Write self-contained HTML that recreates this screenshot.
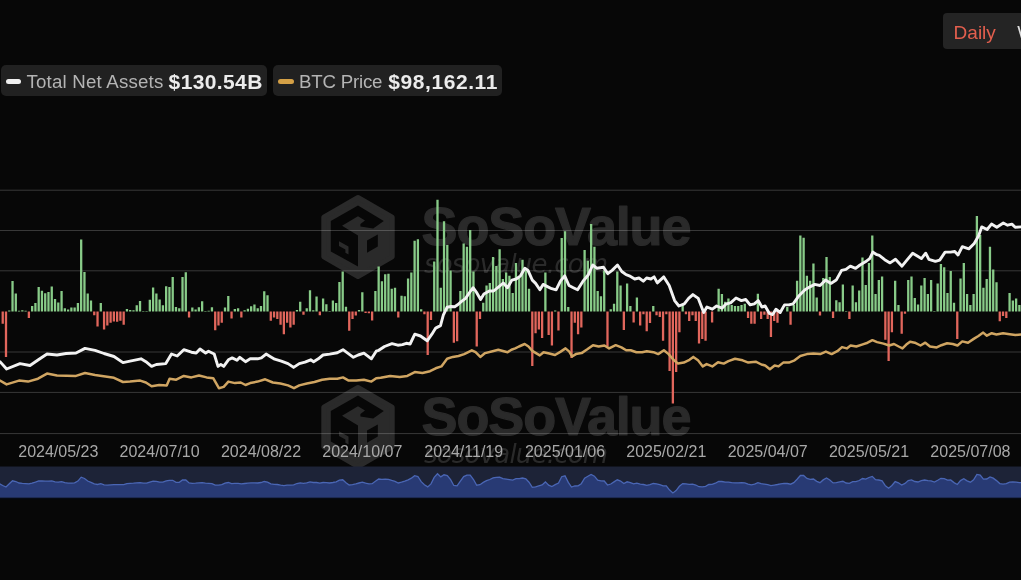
<!DOCTYPE html>
<html><head><meta charset="utf-8"><style>
html,body{margin:0;padding:0;background:#070707;}
body{width:1021px;height:580px;overflow:hidden;position:relative;font-family:"Liberation Sans",Arial,sans-serif;}
svg{position:absolute;left:0;top:0;}
#wrap{position:absolute;left:0;top:0;width:1021px;height:580px;filter:blur(0.4px);}
.pill{position:absolute;top:65px;height:31px;background:#212121;border-radius:5px;}
.dash{position:absolute;top:78.5px;width:15.8px;height:5px;border-radius:2.5px;}
.lbl{position:absolute;top:72.7px;line-height:1;white-space:nowrap;color:#b4b4b4;font-size:18.7px;letter-spacing:-0.2px;}
.val{position:absolute;top:70.5px;line-height:1;white-space:nowrap;color:#ececec;font-size:21px;font-weight:bold;letter-spacing:-0.3px;}
.btn{position:absolute;left:943.3px;top:13.3px;width:100px;height:35.8px;background:#242424;border-radius:4px;}
.btn span{position:absolute;top:8.6px;line-height:normal;font-size:19px;}
</style></head><body><div id="wrap">
<svg width="1021" height="580" viewBox="0 0 1021 580">
<path d="M358.0 197.5 L392.2 217.2 L392.2 256.8 L358.0 276.5 L323.8 256.8 L323.8 217.2Z" fill="#2a2a2a" stroke="#2a2a2a" stroke-width="5" stroke-linejoin="round"/><g transform="translate(358,237)" fill="#070707"><path d="M-27.2 -15.9 L0 -31.5 L25.8 -16 L15.2 -8.4 L2.4 -10.6 L2.4 -12.9 L7 -16.6 L0 -20.8 L-16 -11.2 L0 -1.6 L0 29.6 L-27.2 14.4 Z"/><path d="M-19 4.2 L-9.5 9.6 L-9.5 17.5 L-12.6 15.8 L-12.6 12.6 L-19 9 Z" fill="#2a2a2a"/><path d="M9 3.6 L19.8 -2.6 L19.8 9.6 L9 15.8 Z"/></g><text x="421.6" y="244.8" font-family="Liberation Sans, Arial, sans-serif" font-weight="bold" font-size="54" letter-spacing="-1.15" fill="#2a2a2a" stroke="#2a2a2a" stroke-width="1.2" stroke-linejoin="round">SoSoValue</text><text x="424" y="273" font-family="DejaVu Sans, sans-serif" font-weight="200" font-style="italic" font-size="26" letter-spacing="-0.8" fill="#2a2a2a">sosovalue.com</text><path d="M358.0 387.5 L392.2 407.2 L392.2 446.8 L358.0 466.5 L323.8 446.8 L323.8 407.2Z" fill="#2a2a2a" stroke="#2a2a2a" stroke-width="5" stroke-linejoin="round"/><g transform="translate(358,427)" fill="#070707"><path d="M-27.2 -15.9 L0 -31.5 L25.8 -16 L15.2 -8.4 L2.4 -10.6 L2.4 -12.9 L7 -16.6 L0 -20.8 L-16 -11.2 L0 -1.6 L0 29.6 L-27.2 14.4 Z"/><path d="M-19 4.2 L-9.5 9.6 L-9.5 17.5 L-12.6 15.8 L-12.6 12.6 L-19 9 Z" fill="#2a2a2a"/><path d="M9 3.6 L19.8 -2.6 L19.8 9.6 L9 15.8 Z"/></g><text x="421.6" y="434.8" font-family="Liberation Sans, Arial, sans-serif" font-weight="bold" font-size="54" letter-spacing="-1.15" fill="#2a2a2a" stroke="#2a2a2a" stroke-width="1.2" stroke-linejoin="round">SoSoValue</text><text x="424" y="463" font-family="DejaVu Sans, sans-serif" font-weight="200" font-style="italic" font-size="26" letter-spacing="-0.8" fill="#2a2a2a">sosovalue.com</text>
<g stroke="rgba(255,255,255,0.2)" stroke-width="1"><line x1="0" x2="1021" y1="190.2" y2="190.2"/><line x1="0" x2="1021" y1="230.5" y2="230.5"/><line x1="0" x2="1021" y1="270.8" y2="270.8"/><line x1="0" x2="1021" y1="352.0" y2="352.0"/><line x1="0" x2="1021" y1="392.4" y2="392.4"/><line x1="0" x2="1021" y1="433.6" y2="433.6"/></g>
<path d="M8.11 310.50h2.3V311.5h-2.3zM11.38 280.88h2.3V311.5h-2.3zM14.65 293.61h2.3V311.5h-2.3zM17.92 310.67h2.3V311.5h-2.3zM21.19 310.36h2.3V311.5h-2.3zM24.46 310.67h2.3V311.5h-2.3zM31.00 306.02h2.3V311.5h-2.3zM34.27 302.91h2.3V311.5h-2.3zM37.54 287.09h2.3V311.5h-2.3zM40.80 290.81h2.3V311.5h-2.3zM44.07 293.30h2.3V311.5h-2.3zM47.34 292.05h2.3V311.5h-2.3zM50.61 286.62h2.3V311.5h-2.3zM53.88 299.04h2.3V311.5h-2.3zM57.15 302.60h2.3V311.5h-2.3zM60.42 290.97h2.3V311.5h-2.3zM63.69 308.34h2.3V311.5h-2.3zM66.96 309.43h2.3V311.5h-2.3zM70.23 307.57h2.3V311.5h-2.3zM73.49 307.57h2.3V311.5h-2.3zM76.76 302.91h2.3V311.5h-2.3zM80.03 239.62h2.3V311.5h-2.3zM83.30 271.89h2.3V311.5h-2.3zM86.57 293.61h2.3V311.5h-2.3zM89.84 300.59h2.3V311.5h-2.3zM99.65 302.91h2.3V311.5h-2.3zM125.80 309.12h2.3V311.5h-2.3zM129.07 309.89h2.3V311.5h-2.3zM132.34 310.36h2.3V311.5h-2.3zM135.61 305.24h2.3V311.5h-2.3zM138.88 301.05h2.3V311.5h-2.3zM142.14 310.98h2.3V311.5h-2.3zM145.41 310.98h2.3V311.5h-2.3zM148.68 299.81h2.3V311.5h-2.3zM151.95 287.40h2.3V311.5h-2.3zM155.22 293.61h2.3V311.5h-2.3zM158.49 299.50h2.3V311.5h-2.3zM161.76 305.24h2.3V311.5h-2.3zM165.03 286.16h2.3V311.5h-2.3zM168.30 287.09h2.3V311.5h-2.3zM171.56 277.01h2.3V311.5h-2.3zM174.83 307.10h2.3V311.5h-2.3zM178.10 308.34h2.3V311.5h-2.3zM181.37 277.01h2.3V311.5h-2.3zM184.64 272.20h2.3V311.5h-2.3zM191.18 307.57h2.3V311.5h-2.3zM194.45 309.43h2.3V311.5h-2.3zM197.72 307.26h2.3V311.5h-2.3zM200.99 301.36h2.3V311.5h-2.3zM204.26 310.98h2.3V311.5h-2.3zM207.52 310.67h2.3V311.5h-2.3zM210.79 307.26h2.3V311.5h-2.3zM223.87 307.57h2.3V311.5h-2.3zM227.14 295.93h2.3V311.5h-2.3zM233.68 309.12h2.3V311.5h-2.3zM236.95 308.34h2.3V311.5h-2.3zM243.48 310.36h2.3V311.5h-2.3zM246.75 308.81h2.3V311.5h-2.3zM250.02 306.33h2.3V311.5h-2.3zM253.29 304.46h2.3V311.5h-2.3zM256.56 308.34h2.3V311.5h-2.3zM259.83 306.02h2.3V311.5h-2.3zM263.10 291.28h2.3V311.5h-2.3zM266.37 295.16h2.3V311.5h-2.3zM295.79 309.89h2.3V311.5h-2.3zM299.06 301.67h2.3V311.5h-2.3zM305.59 308.34h2.3V311.5h-2.3zM308.86 290.19h2.3V311.5h-2.3zM312.13 310.36h2.3V311.5h-2.3zM315.40 296.40h2.3V311.5h-2.3zM321.94 298.57h2.3V311.5h-2.3zM325.21 304.15h2.3V311.5h-2.3zM328.48 310.98h2.3V311.5h-2.3zM331.75 300.59h2.3V311.5h-2.3zM335.02 302.91h2.3V311.5h-2.3zM338.28 281.97h2.3V311.5h-2.3zM341.55 271.58h2.3V311.5h-2.3zM344.82 306.79h2.3V311.5h-2.3zM357.90 309.89h2.3V311.5h-2.3zM361.17 292.36h2.3V311.5h-2.3zM374.24 290.97h2.3V311.5h-2.3zM377.51 266.46h2.3V311.5h-2.3zM380.78 281.21h2.3V311.5h-2.3zM384.05 274.31h2.3V311.5h-2.3zM387.32 273.66h2.3V311.5h-2.3zM390.59 288.75h2.3V311.5h-2.3zM393.86 287.67h2.3V311.5h-2.3zM400.40 295.86h2.3V311.5h-2.3zM403.66 296.29h2.3V311.5h-2.3zM406.93 278.62h2.3V311.5h-2.3zM410.20 272.59h2.3V311.5h-2.3zM413.47 240.69h2.3V311.5h-2.3zM416.74 239.18h2.3V311.5h-2.3zM420.01 309.22h2.3V311.5h-2.3zM433.09 261.38h2.3V311.5h-2.3zM436.35 199.74h2.3V311.5h-2.3zM439.62 287.67h2.3V311.5h-2.3zM442.89 221.29h2.3V311.5h-2.3zM446.16 245.00h2.3V311.5h-2.3zM449.43 270.43h2.3V311.5h-2.3zM459.24 290.91h2.3V311.5h-2.3zM462.51 243.49h2.3V311.5h-2.3zM465.78 246.72h2.3V311.5h-2.3zM469.04 229.91h2.3V311.5h-2.3zM472.31 271.51h2.3V311.5h-2.3zM482.12 302.76h2.3V311.5h-2.3zM485.39 285.52h2.3V311.5h-2.3zM488.66 282.93h2.3V311.5h-2.3zM491.93 257.07h2.3V311.5h-2.3zM495.20 266.12h2.3V311.5h-2.3zM498.47 249.31h2.3V311.5h-2.3zM501.73 279.00h2.3V311.5h-2.3zM505.00 272.60h2.3V311.5h-2.3zM508.27 275.80h2.3V311.5h-2.3zM511.54 293.00h2.3V311.5h-2.3zM514.81 262.90h2.3V311.5h-2.3zM518.08 276.90h2.3V311.5h-2.3zM521.35 259.70h2.3V311.5h-2.3zM524.62 270.40h2.3V311.5h-2.3zM527.89 288.80h2.3V311.5h-2.3zM544.23 272.60h2.3V311.5h-2.3zM554.04 310.50h2.3V311.5h-2.3zM560.58 238.10h2.3V311.5h-2.3zM563.85 231.20h2.3V311.5h-2.3zM567.11 307.00h2.3V311.5h-2.3zM583.46 250.00h2.3V311.5h-2.3zM586.73 260.70h2.3V311.5h-2.3zM590.00 224.10h2.3V311.5h-2.3zM593.27 246.70h2.3V311.5h-2.3zM596.53 290.90h2.3V311.5h-2.3zM599.80 296.30h2.3V311.5h-2.3zM603.07 270.40h2.3V311.5h-2.3zM609.61 309.20h2.3V311.5h-2.3zM612.88 303.80h2.3V311.5h-2.3zM616.15 271.50h2.3V311.5h-2.3zM619.42 285.50h2.3V311.5h-2.3zM625.96 283.40h2.3V311.5h-2.3zM629.23 306.00h2.3V311.5h-2.3zM635.76 297.40h2.3V311.5h-2.3zM652.11 306.00h2.3V311.5h-2.3zM681.53 304.90h2.3V311.5h-2.3zM717.49 288.80h2.3V311.5h-2.3zM720.76 294.10h2.3V311.5h-2.3zM724.03 301.70h2.3V311.5h-2.3zM727.29 298.40h2.3V311.5h-2.3zM730.56 304.90h2.3V311.5h-2.3zM733.83 306.00h2.3V311.5h-2.3zM737.10 306.00h2.3V311.5h-2.3zM740.37 304.90h2.3V311.5h-2.3zM743.64 303.80h2.3V311.5h-2.3zM756.72 293.70h2.3V311.5h-2.3zM786.14 307.00h2.3V311.5h-2.3zM792.67 304.90h2.3V311.5h-2.3zM795.94 280.80h2.3V311.5h-2.3zM799.21 235.50h2.3V311.5h-2.3zM802.48 237.70h2.3V311.5h-2.3zM805.75 275.80h2.3V311.5h-2.3zM809.02 280.80h2.3V311.5h-2.3zM812.29 263.50h2.3V311.5h-2.3zM815.56 297.40h2.3V311.5h-2.3zM822.10 278.00h2.3V311.5h-2.3zM825.37 257.00h2.3V311.5h-2.3zM828.63 276.90h2.3V311.5h-2.3zM835.17 300.20h2.3V311.5h-2.3zM838.44 302.30h2.3V311.5h-2.3zM841.71 284.40h2.3V311.5h-2.3zM844.98 311.00h2.3V311.5h-2.3zM851.52 285.50h2.3V311.5h-2.3zM854.79 302.30h2.3V311.5h-2.3zM858.06 290.50h2.3V311.5h-2.3zM861.32 257.50h2.3V311.5h-2.3zM864.59 285.00h2.3V311.5h-2.3zM867.86 262.90h2.3V311.5h-2.3zM871.13 235.50h2.3V311.5h-2.3zM874.40 294.10h2.3V311.5h-2.3zM877.67 280.10h2.3V311.5h-2.3zM880.94 276.50h2.3V311.5h-2.3zM894.01 280.80h2.3V311.5h-2.3zM897.28 304.90h2.3V311.5h-2.3zM907.09 280.10h2.3V311.5h-2.3zM910.36 276.50h2.3V311.5h-2.3zM913.63 298.00h2.3V311.5h-2.3zM916.90 304.50h2.3V311.5h-2.3zM920.17 285.50h2.3V311.5h-2.3zM923.44 278.00h2.3V311.5h-2.3zM926.70 294.10h2.3V311.5h-2.3zM929.97 280.10h2.3V311.5h-2.3zM933.24 311.00h2.3V311.5h-2.3zM936.51 283.40h2.3V311.5h-2.3zM939.78 264.00h2.3V311.5h-2.3zM943.05 267.20h2.3V311.5h-2.3zM946.32 293.00h2.3V311.5h-2.3zM949.59 270.90h2.3V311.5h-2.3zM952.86 302.80h2.3V311.5h-2.3zM959.39 278.60h2.3V311.5h-2.3zM962.66 262.90h2.3V311.5h-2.3zM965.93 294.10h2.3V311.5h-2.3zM969.20 304.90h2.3V311.5h-2.3zM972.47 294.10h2.3V311.5h-2.3zM975.74 216.10h2.3V311.5h-2.3zM979.01 234.90h2.3V311.5h-2.3zM982.28 287.70h2.3V311.5h-2.3zM985.55 279.00h2.3V311.5h-2.3zM988.82 246.70h2.3V311.5h-2.3zM992.08 269.40h2.3V311.5h-2.3zM995.35 282.30h2.3V311.5h-2.3zM1008.43 293.00h2.3V311.5h-2.3zM1011.70 300.60h2.3V311.5h-2.3zM1014.97 298.40h2.3V311.5h-2.3zM1018.24 304.90h2.3V311.5h-2.3z" fill="#88cb88"/>
<path d="M1.58 311.50h2.3V323.72h-2.3zM4.85 311.50h2.3V356.93h-2.3zM27.73 311.50h2.3V318.03h-2.3zM93.11 311.50h2.3V315.18h-2.3zM96.38 311.50h2.3V326.57h-2.3zM102.92 311.50h2.3V329.41h-2.3zM106.19 311.50h2.3V325.62h-2.3zM109.45 311.50h2.3V322.77h-2.3zM112.72 311.50h2.3V321.50h-2.3zM115.99 311.50h2.3V321.82h-2.3zM119.26 311.50h2.3V320.87h-2.3zM122.53 311.50h2.3V324.67h-2.3zM187.91 311.50h2.3V317.46h-2.3zM214.06 311.50h2.3V330.36h-2.3zM217.33 311.50h2.3V325.62h-2.3zM220.60 311.50h2.3V322.77h-2.3zM230.41 311.50h2.3V318.60h-2.3zM240.21 311.50h2.3V317.46h-2.3zM269.64 311.50h2.3V320.87h-2.3zM272.90 311.50h2.3V317.46h-2.3zM276.17 311.50h2.3V318.98h-2.3zM279.44 311.50h2.3V324.67h-2.3zM282.71 311.50h2.3V334.16h-2.3zM285.98 311.50h2.3V322.77h-2.3zM289.25 311.50h2.3V327.51h-2.3zM292.52 311.50h2.3V324.67h-2.3zM302.33 311.50h2.3V314.80h-2.3zM318.67 311.50h2.3V315.18h-2.3zM348.09 311.50h2.3V330.74h-2.3zM351.36 311.50h2.3V318.98h-2.3zM354.63 311.50h2.3V315.56h-2.3zM364.44 311.50h2.3V313.00h-2.3zM367.71 311.50h2.3V313.28h-2.3zM370.97 311.50h2.3V320.49h-2.3zM397.13 311.50h2.3V317.46h-2.3zM423.28 311.50h2.3V314.23h-2.3zM426.55 311.50h2.3V355.03h-2.3zM429.82 311.50h2.3V319.92h-2.3zM452.70 311.50h2.3V342.69h-2.3zM455.97 311.50h2.3V341.37h-2.3zM475.58 311.50h2.3V346.49h-2.3zM478.85 311.50h2.3V318.98h-2.3zM531.15 311.50h2.3V366.00h-2.3zM534.42 311.50h2.3V333.20h-2.3zM537.69 311.50h2.3V329.40h-2.3zM540.96 311.50h2.3V338.00h-2.3zM547.50 311.50h2.3V335.10h-2.3zM550.77 311.50h2.3V345.50h-2.3zM557.31 311.50h2.3V330.40h-2.3zM570.38 311.50h2.3V357.90h-2.3zM573.65 311.50h2.3V322.80h-2.3zM576.92 311.50h2.3V334.20h-2.3zM580.19 311.50h2.3V327.50h-2.3zM606.34 311.50h2.3V346.50h-2.3zM622.69 311.50h2.3V330.00h-2.3zM632.49 311.50h2.3V322.40h-2.3zM639.03 311.50h2.3V325.60h-2.3zM642.30 311.50h2.3V314.20h-2.3zM645.57 311.50h2.3V331.30h-2.3zM648.84 311.50h2.3V323.10h-2.3zM655.38 311.50h2.3V315.20h-2.3zM658.65 311.50h2.3V317.10h-2.3zM661.91 311.50h2.3V340.80h-2.3zM665.18 311.50h2.3V314.20h-2.3zM668.45 311.50h2.3V371.00h-2.3zM671.72 311.50h2.3V403.40h-2.3zM674.99 311.50h2.3V372.00h-2.3zM678.26 311.50h2.3V332.30h-2.3zM684.80 311.50h2.3V314.20h-2.3zM688.07 311.50h2.3V320.90h-2.3zM691.34 311.50h2.3V315.20h-2.3zM694.61 311.50h2.3V320.90h-2.3zM697.87 311.50h2.3V343.60h-2.3zM701.14 311.50h2.3V338.90h-2.3zM704.41 311.50h2.3V340.80h-2.3zM710.95 311.50h2.3V322.40h-2.3zM746.91 311.50h2.3V318.00h-2.3zM750.18 311.50h2.3V323.70h-2.3zM753.45 311.50h2.3V323.70h-2.3zM759.99 311.50h2.3V319.00h-2.3zM763.25 311.50h2.3V314.80h-2.3zM766.52 311.50h2.3V319.00h-2.3zM769.79 311.50h2.3V337.00h-2.3zM773.06 311.50h2.3V320.90h-2.3zM776.33 311.50h2.3V322.80h-2.3zM789.41 311.50h2.3V324.70h-2.3zM818.83 311.50h2.3V315.60h-2.3zM831.90 311.50h2.3V318.00h-2.3zM848.25 311.50h2.3V319.00h-2.3zM884.21 311.50h2.3V339.80h-2.3zM887.48 311.50h2.3V361.10h-2.3zM890.75 311.50h2.3V332.30h-2.3zM900.55 311.50h2.3V333.80h-2.3zM903.82 311.50h2.3V313.70h-2.3zM956.12 311.50h2.3V338.90h-2.3zM998.62 311.50h2.3V321.30h-2.3zM1001.89 311.50h2.3V316.10h-2.3zM1005.16 311.50h2.3V318.00h-2.3z" fill="#e1665c"/>
<path d="M0.0 380.6 L6.6 384.4 L19.0 380.6 L28.0 381.6 L38.0 378.7 L47.0 373.6 L57.0 375.5 L76.0 375.9 L85.0 373.0 L95.0 375.0 L114.0 377.8 L123.0 382.0 L130.0 381.6 L140.2 380.6 L145.9 382.5 L151.6 386.3 L159.2 385.0 L166.7 385.4 L169.6 378.7 L176.2 379.7 L183.8 375.9 L191.4 377.4 L199.0 375.5 L206.6 377.4 L213.2 378.2 L218.9 388.2 L223.7 386.9 L228.4 381.6 L235.0 383.1 L240.7 382.5 L245.5 385.0 L250.2 383.1 L257.6 381.6 L265.2 379.3 L272.8 382.5 L280.4 383.5 L288.0 385.4 L294.0 388.2 L299.3 385.4 L306.9 383.5 L314.5 382.0 L322.1 379.7 L329.7 378.7 L337.3 378.7 L343.0 377.4 L348.7 380.6 L356.3 380.6 L363.9 379.7 L371.4 381.6 L376.2 378.2 L380.7 377.8 L390.2 375.9 L399.7 376.9 L407.3 375.9 L414.8 372.1 L422.4 373.0 L430.0 371.2 L435.7 368.3 L441.4 366.4 L447.1 358.8 L452.8 356.9 L458.5 356.0 L464.2 354.1 L471.8 350.3 L475.6 352.2 L480.3 356.9 L485.1 353.1 L492.6 351.2 L498.3 349.7 L503.8 351.2 L507.6 352.2 L511.4 349.7 L515.2 348.4 L519.0 346.5 L524.7 344.0 L528.5 346.5 L532.3 350.9 L536.0 353.1 L539.8 355.4 L543.6 352.2 L549.3 353.5 L555.0 355.0 L560.7 351.6 L565.5 348.4 L569.3 351.6 L572.1 356.5 L575.9 354.1 L581.6 353.1 L587.3 349.3 L593.0 345.2 L598.7 346.5 L604.4 345.5 L609.1 348.4 L615.7 345.2 L621.4 347.4 L626.2 350.3 L630.7 350.3 L636.4 352.2 L642.1 352.2 L646.8 351.2 L653.5 352.2 L658.2 354.1 L663.9 350.3 L668.6 354.1 L673.4 359.8 L678.1 363.6 L683.8 362.6 L689.5 359.8 L693.3 356.9 L698.0 360.3 L702.8 366.4 L706.6 364.1 L712.3 366.4 L718.0 362.2 L723.7 363.6 L728.4 361.1 L735.0 358.8 L742.6 360.3 L748.3 362.6 L755.7 361.7 L761.4 364.5 L765.2 365.5 L769.9 369.3 L774.7 365.5 L778.5 366.4 L783.2 362.6 L788.9 362.6 L794.6 360.3 L800.3 356.0 L806.9 354.1 L813.6 353.5 L820.2 354.1 L825.9 351.6 L831.6 354.1 L837.3 351.2 L842.0 347.1 L846.8 348.4 L850.6 345.5 L856.3 346.5 L862.0 344.6 L867.6 342.7 L872.4 340.2 L877.1 342.1 L883.5 343.6 L889.2 345.5 L894.0 344.0 L898.7 346.5 L902.5 348.4 L906.3 344.6 L910.1 341.7 L914.8 342.7 L920.5 345.5 L925.3 342.7 L930.0 346.5 L936.7 347.4 L941.4 345.2 L947.1 343.3 L952.8 344.0 L957.5 345.5 L962.3 341.4 L968.0 342.7 L973.7 338.9 L978.4 336.0 L983.2 332.6 L986.9 335.7 L991.7 333.2 L996.4 334.5 L1003.1 333.2 L1009.7 334.2 L1015.4 335.1 L1021.0 334.5" fill="none" stroke="#d0a562" stroke-width="2.5" stroke-linejoin="round" stroke-linecap="round"/>
<path d="M0.0 361.7 L6.6 369.0 L20.0 363.6 L30.0 365.5 L38.0 360.0 L47.0 354.0 L57.0 355.0 L66.0 353.5 L76.0 353.0 L85.0 348.4 L95.0 350.3 L104.0 353.5 L114.0 356.5 L123.0 362.6 L130.0 361.2 L141.0 358.8 L145.9 361.7 L151.6 366.4 L156.3 364.5 L165.8 363.6 L171.5 354.0 L177.2 356.0 L183.8 349.7 L191.4 352.2 L196.2 353.0 L200.0 349.0 L205.6 353.0 L208.5 351.2 L214.2 354.0 L218.0 366.4 L220.8 364.5 L223.7 366.4 L228.4 359.8 L232.2 357.9 L237.0 360.3 L239.8 357.3 L245.5 361.7 L250.2 358.8 L257.6 358.8 L261.4 357.9 L266.1 354.1 L270.9 356.9 L274.7 359.2 L281.3 361.1 L288.0 363.6 L293.6 367.4 L299.3 363.6 L305.0 362.2 L310.7 359.8 L313.6 361.7 L318.3 358.8 L323.0 355.0 L329.7 354.1 L337.3 352.8 L343.0 349.7 L347.7 353.1 L353.4 357.3 L358.2 355.0 L363.9 353.1 L371.4 358.8 L376.2 351.2 L378.8 350.3 L384.5 346.5 L392.0 343.6 L397.8 345.2 L402.5 344.6 L406.3 343.3 L410.1 344.0 L414.8 334.2 L420.5 336.0 L427.2 340.8 L431.9 334.2 L435.7 328.1 L440.5 325.6 L443.3 315.2 L447.1 307.2 L450.9 306.5 L454.7 306.8 L458.0 304.5 L461.2 301.7 L465.6 298.4 L469.9 292.0 L473.1 287.7 L476.3 292.0 L480.6 299.5 L483.9 294.0 L489.3 291.0 L493.6 291.0 L499.0 286.6 L503.3 283.0 L507.5 287.7 L511.9 280.1 L516.2 279.0 L520.5 275.8 L524.8 268.3 L528.0 270.4 L532.3 280.1 L535.6 283.4 L539.9 289.8 L543.1 284.4 L547.4 286.6 L551.7 288.7 L556.1 289.8 L560.4 281.2 L564.7 275.8 L569.0 285.5 L573.3 287.7 L577.6 289.8 L583.0 281.2 L588.4 274.7 L592.7 265.0 L597.0 268.3 L603.5 267.2 L607.8 273.7 L612.1 270.4 L617.5 265.0 L621.8 271.5 L626.1 274.7 L629.3 275.8 L634.7 279.0 L639.0 278.0 L643.3 281.2 L646.6 278.0 L650.9 279.0 L654.1 276.9 L657.3 282.9 L663.8 276.9 L669.2 285.5 L674.6 300.6 L678.9 306.0 L684.3 303.8 L688.6 298.4 L692.9 294.6 L698.3 298.4 L703.7 312.5 L706.9 307.0 L712.3 309.2 L716.6 306.0 L722.0 308.1 L726.3 303.8 L730.6 302.8 L736.0 298.0 L741.4 300.6 L745.7 299.5 L750.1 304.9 L754.3 303.8 L758.2 300.6 L761.9 307.0 L765.1 306.0 L769.4 313.5 L772.6 314.6 L775.9 309.2 L780.2 312.5 L784.5 304.9 L788.8 304.9 L793.1 303.8 L798.5 296.3 L805.0 289.8 L810.4 286.6 L814.7 284.4 L820.1 285.5 L825.5 280.1 L830.9 283.4 L836.2 280.1 L841.6 270.4 L845.9 269.4 L850.3 266.1 L855.6 268.3 L860.0 265.0 L865.4 261.8 L869.7 258.6 L872.9 252.1 L876.1 254.3 L879.3 255.4 L884.7 259.7 L890.1 262.9 L895.5 259.3 L902.0 266.2 L907.3 259.7 L912.7 253.2 L918.1 256.5 L921.4 258.6 L925.7 253.2 L928.9 259.3 L935.4 261.4 L939.7 260.1 L945.1 252.1 L950.5 252.1 L954.8 251.5 L958.0 255.0 L962.3 246.7 L968.8 248.9 L974.2 243.5 L978.5 236.0 L981.7 226.9 L987.1 229.5 L991.5 224.1 L996.8 227.3 L1003.3 223.0 L1007.6 225.2 L1011.9 224.1 L1015.2 227.3 L1021.0 226.9" fill="none" stroke="#f2f2f2" stroke-width="2.9" stroke-linejoin="round" stroke-linecap="round"/>
<g fill="#a8a8a8" font-family="Liberation Sans, Arial, sans-serif" font-size="16" text-anchor="middle"><text x="58.3" y="456.5">2024/05/23</text><text x="159.6" y="456.5">2024/07/10</text><text x="261.0" y="456.5">2024/08/22</text><text x="362.3" y="456.5">2024/10/07</text><text x="463.7" y="456.5">2024/11/19</text><text x="565.0" y="456.5">2025/01/06</text><text x="666.3" y="456.5">2025/02/21</text><text x="767.7" y="456.5">2025/04/07</text><text x="869.0" y="456.5">2025/05/21</text><text x="970.4" y="456.5">2025/07/08</text></g>
<rect x="0" y="466.5" width="1021" height="31.30000000000001" fill="#1d2337"/>
<path d="M0.0 483.8 L-0.5 483.8 L2.7 485.5 L6.0 487.0 L9.3 483.8 L12.5 480.8 L15.8 481.5 L19.1 483.0 L22.3 483.4 L25.6 483.6 L28.9 483.8 L32.1 483.1 L35.4 482.2 L38.7 481.0 L42.0 481.0 L45.2 481.2 L48.5 481.1 L51.8 480.9 L55.0 481.8 L58.3 482.1 L61.6 481.7 L64.8 482.7 L68.1 483.2 L71.4 483.1 L74.6 482.9 L77.9 481.1 L81.2 477.2 L84.5 478.5 L87.7 481.0 L91.0 482.4 L94.3 483.9 L97.5 484.5 L100.8 483.7 L104.1 484.9 L107.3 485.2 L110.6 484.9 L113.9 484.7 L117.1 484.7 L120.4 484.7 L123.7 484.6 L126.9 483.6 L130.2 483.3 L133.5 483.2 L136.8 482.8 L140.0 482.6 L143.3 483.2 L146.6 483.2 L149.8 482.1 L153.1 481.1 L156.4 481.3 L159.6 482.1 L162.9 482.2 L166.2 480.9 L169.4 480.3 L172.7 480.3 L176.0 482.3 L179.3 482.3 L182.5 480.0 L185.8 480.0 L189.1 482.9 L192.3 483.3 L195.6 483.2 L198.9 482.9 L202.1 482.7 L205.4 483.2 L208.7 483.3 L211.9 483.6 L215.2 485.1 L218.5 485.2 L221.8 484.6 L225.0 483.1 L228.3 482.5 L231.6 483.6 L234.8 483.4 L238.1 483.4 L241.4 483.8 L244.6 483.5 L247.9 483.2 L251.2 482.9 L254.4 482.8 L257.7 483.0 L261.0 482.5 L264.2 481.5 L267.5 482.1 L270.8 483.9 L274.1 484.3 L277.3 484.5 L280.6 485.2 L283.9 485.7 L287.1 485.2 L290.4 485.2 L293.7 484.8 L296.9 483.5 L300.2 482.8 L303.5 483.4 L306.7 482.8 L310.0 481.9 L313.3 482.5 L316.6 482.5 L319.8 483.1 L323.1 482.5 L326.4 482.6 L329.6 483.0 L332.9 482.5 L336.2 481.9 L339.4 480.2 L342.7 479.8 L346.0 482.7 L349.2 485.0 L352.5 484.6 L355.8 483.9 L359.0 483.0 L362.3 482.1 L365.6 483.2 L368.9 483.9 L372.1 483.7 L375.4 481.2 L378.7 479.0 L381.9 479.3 L385.2 479.2 L388.5 479.3 L391.7 480.4 L395.0 481.4 L398.3 483.0 L401.5 482.2 L404.8 481.2 L408.1 479.8 L411.4 478.2 L414.6 475.7 L417.9 476.5 L421.2 481.7 L424.4 484.7 L427.7 486.9 L431.0 483.9 L434.2 477.4 L437.5 473.7 L440.8 476.9 L444.0 474.8 L447.3 475.6 L450.6 479.7 L453.8 485.5 L457.1 485.9 L460.4 481.1 L463.7 476.6 L466.9 475.2 L470.2 475.1 L473.5 479.5 L476.7 485.2 L480.0 484.7 L483.3 482.4 L486.5 480.7 L489.8 479.5 L493.1 477.8 L496.3 477.4 L499.6 477.2 L502.9 478.7 L506.2 479.1 L509.4 479.6 L512.7 480.1 L516.0 478.7 L519.2 478.6 L522.5 478.0 L525.8 478.8 L529.0 482.2 L532.3 487.4 L535.6 486.8 L538.8 485.9 L542.1 484.9 L545.4 481.9 L548.6 485.1 L551.9 486.5 L555.2 484.7 L558.5 483.1 L561.7 476.7 L565.0 475.8 L568.3 482.4 L571.5 487.0 L574.8 486.0 L578.1 485.8 L581.3 483.7 L584.6 478.2 L587.9 476.3 L591.1 474.4 L594.4 476.2 L597.7 480.1 L601.0 480.9 L604.2 481.0 L607.5 485.0 L610.8 484.0 L614.0 481.9 L617.3 479.8 L620.6 481.1 L623.8 483.5 L627.1 481.8 L630.4 482.7 L633.6 483.8 L636.9 483.1 L640.2 484.2 L643.5 484.5 L646.7 485.3 L650.0 484.7 L653.3 483.5 L656.5 483.8 L659.8 484.7 L663.1 485.8 L666.3 485.8 L669.6 490.1 L672.9 493.0 L676.1 490.6 L679.4 486.3 L682.7 483.6 L685.9 483.8 L689.2 484.3 L692.5 484.2 L695.8 485.0 L699.0 486.7 L702.3 486.9 L705.6 486.3 L708.8 484.5 L712.1 484.3 L715.4 483.2 L718.6 481.4 L721.9 481.5 L725.2 482.1 L728.4 482.2 L731.7 482.6 L735.0 482.8 L738.3 482.8 L741.5 482.7 L744.8 482.9 L748.1 484.1 L751.3 484.8 L754.6 484.2 L757.9 482.7 L761.1 483.7 L764.4 484.1 L767.7 484.7 L770.9 485.7 L774.2 485.1 L777.5 484.5 L780.7 483.8 L784.0 483.4 L787.3 483.5 L790.6 484.2 L793.8 482.6 L797.1 479.3 L800.4 475.5 L803.6 475.5 L806.9 478.4 L810.2 479.3 L813.4 479.0 L816.7 481.4 L820.0 482.7 L823.2 479.9 L826.5 477.9 L829.8 479.9 L833.1 482.9 L836.3 482.6 L839.6 481.9 L842.9 481.3 L846.1 483.0 L849.4 483.4 L852.7 481.6 L855.9 481.7 L859.2 480.5 L862.5 478.5 L865.7 479.1 L869.0 477.5 L872.3 476.4 L875.5 479.7 L878.8 480.0 L882.1 480.9 L885.4 485.9 L888.6 488.2 L891.9 485.5 L895.2 481.6 L898.4 482.8 L901.7 485.0 L905.0 483.4 L908.2 480.5 L911.5 479.9 L914.8 481.5 L918.0 482.0 L921.3 480.7 L924.6 480.0 L927.9 480.7 L931.1 480.8 L934.4 482.0 L937.7 480.3 L940.9 478.3 L944.2 478.7 L947.5 480.1 L950.7 479.9 L954.0 482.6 L957.3 484.5 L960.5 480.6 L963.8 478.8 L967.1 480.9 L970.4 482.2 L973.6 479.8 L976.9 474.4 L980.2 475.1 L983.4 479.2 L986.7 479.0 L990.0 477.0 L993.2 478.2 L996.5 480.6 L999.8 483.6 L1003.0 484.2 L1006.3 483.6 L1009.6 482.1 L1012.8 482.0 L1016.1 482.1 L1019.4 482.6 L1021.0 482.6 L1021 497.8 L0 497.8 Z" fill="#283a74"/>
<path d="M0.0 483.8 L-0.5 483.8 L2.7 485.5 L6.0 487.0 L9.3 483.8 L12.5 480.8 L15.8 481.5 L19.1 483.0 L22.3 483.4 L25.6 483.6 L28.9 483.8 L32.1 483.1 L35.4 482.2 L38.7 481.0 L42.0 481.0 L45.2 481.2 L48.5 481.1 L51.8 480.9 L55.0 481.8 L58.3 482.1 L61.6 481.7 L64.8 482.7 L68.1 483.2 L71.4 483.1 L74.6 482.9 L77.9 481.1 L81.2 477.2 L84.5 478.5 L87.7 481.0 L91.0 482.4 L94.3 483.9 L97.5 484.5 L100.8 483.7 L104.1 484.9 L107.3 485.2 L110.6 484.9 L113.9 484.7 L117.1 484.7 L120.4 484.7 L123.7 484.6 L126.9 483.6 L130.2 483.3 L133.5 483.2 L136.8 482.8 L140.0 482.6 L143.3 483.2 L146.6 483.2 L149.8 482.1 L153.1 481.1 L156.4 481.3 L159.6 482.1 L162.9 482.2 L166.2 480.9 L169.4 480.3 L172.7 480.3 L176.0 482.3 L179.3 482.3 L182.5 480.0 L185.8 480.0 L189.1 482.9 L192.3 483.3 L195.6 483.2 L198.9 482.9 L202.1 482.7 L205.4 483.2 L208.7 483.3 L211.9 483.6 L215.2 485.1 L218.5 485.2 L221.8 484.6 L225.0 483.1 L228.3 482.5 L231.6 483.6 L234.8 483.4 L238.1 483.4 L241.4 483.8 L244.6 483.5 L247.9 483.2 L251.2 482.9 L254.4 482.8 L257.7 483.0 L261.0 482.5 L264.2 481.5 L267.5 482.1 L270.8 483.9 L274.1 484.3 L277.3 484.5 L280.6 485.2 L283.9 485.7 L287.1 485.2 L290.4 485.2 L293.7 484.8 L296.9 483.5 L300.2 482.8 L303.5 483.4 L306.7 482.8 L310.0 481.9 L313.3 482.5 L316.6 482.5 L319.8 483.1 L323.1 482.5 L326.4 482.6 L329.6 483.0 L332.9 482.5 L336.2 481.9 L339.4 480.2 L342.7 479.8 L346.0 482.7 L349.2 485.0 L352.5 484.6 L355.8 483.9 L359.0 483.0 L362.3 482.1 L365.6 483.2 L368.9 483.9 L372.1 483.7 L375.4 481.2 L378.7 479.0 L381.9 479.3 L385.2 479.2 L388.5 479.3 L391.7 480.4 L395.0 481.4 L398.3 483.0 L401.5 482.2 L404.8 481.2 L408.1 479.8 L411.4 478.2 L414.6 475.7 L417.9 476.5 L421.2 481.7 L424.4 484.7 L427.7 486.9 L431.0 483.9 L434.2 477.4 L437.5 473.7 L440.8 476.9 L444.0 474.8 L447.3 475.6 L450.6 479.7 L453.8 485.5 L457.1 485.9 L460.4 481.1 L463.7 476.6 L466.9 475.2 L470.2 475.1 L473.5 479.5 L476.7 485.2 L480.0 484.7 L483.3 482.4 L486.5 480.7 L489.8 479.5 L493.1 477.8 L496.3 477.4 L499.6 477.2 L502.9 478.7 L506.2 479.1 L509.4 479.6 L512.7 480.1 L516.0 478.7 L519.2 478.6 L522.5 478.0 L525.8 478.8 L529.0 482.2 L532.3 487.4 L535.6 486.8 L538.8 485.9 L542.1 484.9 L545.4 481.9 L548.6 485.1 L551.9 486.5 L555.2 484.7 L558.5 483.1 L561.7 476.7 L565.0 475.8 L568.3 482.4 L571.5 487.0 L574.8 486.0 L578.1 485.8 L581.3 483.7 L584.6 478.2 L587.9 476.3 L591.1 474.4 L594.4 476.2 L597.7 480.1 L601.0 480.9 L604.2 481.0 L607.5 485.0 L610.8 484.0 L614.0 481.9 L617.3 479.8 L620.6 481.1 L623.8 483.5 L627.1 481.8 L630.4 482.7 L633.6 483.8 L636.9 483.1 L640.2 484.2 L643.5 484.5 L646.7 485.3 L650.0 484.7 L653.3 483.5 L656.5 483.8 L659.8 484.7 L663.1 485.8 L666.3 485.8 L669.6 490.1 L672.9 493.0 L676.1 490.6 L679.4 486.3 L682.7 483.6 L685.9 483.8 L689.2 484.3 L692.5 484.2 L695.8 485.0 L699.0 486.7 L702.3 486.9 L705.6 486.3 L708.8 484.5 L712.1 484.3 L715.4 483.2 L718.6 481.4 L721.9 481.5 L725.2 482.1 L728.4 482.2 L731.7 482.6 L735.0 482.8 L738.3 482.8 L741.5 482.7 L744.8 482.9 L748.1 484.1 L751.3 484.8 L754.6 484.2 L757.9 482.7 L761.1 483.7 L764.4 484.1 L767.7 484.7 L770.9 485.7 L774.2 485.1 L777.5 484.5 L780.7 483.8 L784.0 483.4 L787.3 483.5 L790.6 484.2 L793.8 482.6 L797.1 479.3 L800.4 475.5 L803.6 475.5 L806.9 478.4 L810.2 479.3 L813.4 479.0 L816.7 481.4 L820.0 482.7 L823.2 479.9 L826.5 477.9 L829.8 479.9 L833.1 482.9 L836.3 482.6 L839.6 481.9 L842.9 481.3 L846.1 483.0 L849.4 483.4 L852.7 481.6 L855.9 481.7 L859.2 480.5 L862.5 478.5 L865.7 479.1 L869.0 477.5 L872.3 476.4 L875.5 479.7 L878.8 480.0 L882.1 480.9 L885.4 485.9 L888.6 488.2 L891.9 485.5 L895.2 481.6 L898.4 482.8 L901.7 485.0 L905.0 483.4 L908.2 480.5 L911.5 479.9 L914.8 481.5 L918.0 482.0 L921.3 480.7 L924.6 480.0 L927.9 480.7 L931.1 480.8 L934.4 482.0 L937.7 480.3 L940.9 478.3 L944.2 478.7 L947.5 480.1 L950.7 479.9 L954.0 482.6 L957.3 484.5 L960.5 480.6 L963.8 478.8 L967.1 480.9 L970.4 482.2 L973.6 479.8 L976.9 474.4 L980.2 475.1 L983.4 479.2 L986.7 479.0 L990.0 477.0 L993.2 478.2 L996.5 480.6 L999.8 483.6 L1003.0 484.2 L1006.3 483.6 L1009.6 482.1 L1012.8 482.0 L1016.1 482.1 L1019.4 482.6 L1021.0 482.6" fill="none" stroke="#4a66b4" stroke-width="1.3"/>
<rect x="0" y="497.8" width="1021" height="1.5" fill="#060a14"/>
</svg>
<div class="pill" style="left:1px;width:266px;"></div><div class="pill" style="left:273px;width:229px;"></div>
<span class="dash" style="left:5.5px;background:#f0f0f0"></span><span class="lbl" style="left:26.5px;letter-spacing:0.19px">Total Net Assets</span><span class="val" style="left:168.6px;letter-spacing:0.38px">$130.54B</span>
<span class="dash" style="left:278.3px;background:#d4a046"></span><span class="lbl" style="left:299.1px;letter-spacing:-0.22px">BTC Price</span><span class="val" style="left:388.3px;letter-spacing:0.57px">$98,162.11</span>
<div class="btn"><span style="left:10.3px;color:#e35f4e">Daily</span><span style="left:74px;color:#dcdcdc">Weekly</span></div>
</div></body></html>
